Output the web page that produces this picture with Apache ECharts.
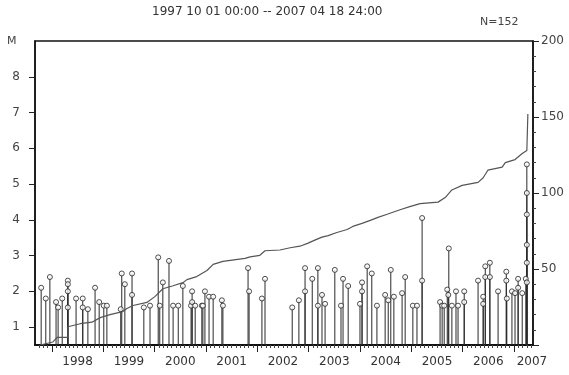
<!DOCTYPE html>
<html>
<head>
<meta charset="utf-8">
<script src="https://cdn.jsdelivr.net/npm/echarts@6/dist/echarts.min.js"></script>
<style>
  html, body { margin: 0; padding: 0; background: #fff; }
  #chart { width: 569px; height: 375px; }
</style>
</head>
<body>
<div id="chart"></div>
<script>
// event times (decimal years) and magnitudes
var eventYears = [
  1997.79, 1997.88, 1997.96, 1998.08, 1998.12, 1998.20, 1998.31, 1998.31, 1998.31, 1998.31,
  1998.47, 1998.60, 1998.60, 1998.70, 1998.84, 1998.92, 1999.01, 1999.07, 1999.34, 1999.36,
  1999.42, 1999.56, 1999.56, 1999.79, 1999.91, 2000.07, 2000.10, 2000.16, 2000.28, 2000.36,
  2000.46, 2000.55, 2000.71, 2000.73, 2000.73, 2000.79, 2000.92, 2000.94, 2000.98, 2001.06,
  2001.14, 2001.31, 2001.33, 2001.82, 2001.84, 2002.09, 2002.15, 2002.68, 2002.81, 2002.93,
  2002.93, 2003.07, 2003.18, 2003.18, 2003.26, 2003.32, 2003.51, 2003.63, 2003.67, 2003.77,
  2004.00, 2004.04, 2004.04, 2004.14, 2004.23, 2004.33, 2004.49, 2004.55, 2004.60, 2004.66,
  2004.82, 2004.88, 2005.03, 2005.11, 2005.21, 2005.21, 2005.56, 2005.60, 2005.64, 2005.70,
  2005.72, 2005.73, 2005.79, 2005.87, 2005.91, 2006.03, 2006.03, 2006.30, 2006.40, 2006.40,
  2006.44, 2006.44, 2006.53, 2006.53, 2006.69, 2006.85, 2006.85, 2006.86, 2006.96, 2007.02,
  2007.08, 2007.08, 2007.16, 2007.23, 2007.25, 2007.25, 2007.25, 2007.25, 2007.25, 2007.25
];
var eventMags = [
  2.1, 1.8, 2.4, 1.7, 1.55, 1.8, 2.3, 2.2, 2.0, 1.55,
  1.8, 1.8, 1.55, 1.5, 2.1, 1.7, 1.6, 1.6, 1.5, 2.5,
  2.2, 2.5, 1.9, 1.55, 1.6, 2.95, 1.6, 2.25, 2.85, 1.6,
  1.6, 2.15, 1.6, 2.0, 1.7, 1.6, 1.6, 1.6, 2.0, 1.85,
  1.85, 1.75, 1.6, 2.65, 2.0, 1.8, 2.35, 1.55, 1.75, 2.65,
  2.0, 2.35, 2.65, 1.6, 1.9, 1.65, 2.6, 1.6, 2.35, 2.15,
  1.65, 2.25, 2.0, 2.7, 2.5, 1.6, 1.9, 1.75, 2.6, 1.85,
  1.95, 2.4, 1.6, 1.6, 4.05, 2.3, 1.7, 1.6, 1.6, 2.05,
  1.9, 3.2, 1.6, 2.0, 1.6, 2.0, 1.7, 2.3, 1.85, 1.65,
  2.7, 2.4, 2.8, 2.4, 2.0, 2.55, 2.3, 1.8, 2.0, 1.95,
  2.35, 2.1, 1.95, 2.35, 5.55, 4.75, 4.15, 3.3, 2.8, 2.25
];

// cumulative count curve (right axis)
var cumYears = [
  1997.77, 1998.02, 1998.10, 1998.31, 1998.31, 1998.55, 1998.78, 1998.94, 1999.13, 1999.38,
  1999.46, 1999.58, 1999.85, 2000.01, 2000.16, 2000.36, 2000.55, 2000.63, 2000.82, 2001.02,
  2001.14, 2001.33, 2001.76, 2001.86, 2002.05, 2002.15, 2002.44, 2002.64, 2002.83, 2002.99,
  2003.12, 2003.26, 2003.38, 2003.55, 2003.75, 2003.86, 2004.04, 2004.20, 2004.35, 2004.53,
  2004.78, 2004.97, 2005.17, 2005.52, 2005.66, 2005.79, 2005.99, 2006.30, 2006.40, 2006.49,
  2006.77, 2006.83, 2007.02, 2007.16, 2007.25, 2007.27
];
var cumCounts = [
  0, 2, 5, 5, 12, 14, 15, 18, 20, 22,
  24, 26, 28, 32, 37, 39, 41, 43, 45, 49,
  53, 55, 57, 58, 59, 62, 62.5, 64, 65, 67,
  69, 71, 72, 74, 76, 78, 80, 82, 84, 86,
  89, 91, 93, 94, 97, 102, 105, 107, 110, 115,
  117, 120, 122, 126, 128, 152
];

var yearTicks = [1998, 1999, 2000, 2001, 2002, 2003, 2004, 2005, 2006, 2007];
var yearLabelPos = [1998.5, 1999.5, 2000.5, 2001.5, 2002.5, 2003.5, 2004.5, 2005.5, 2006.5, 2007.35];
var magTicks = [1, 2, 3, 4, 5, 6, 7, 8];

var xMin = 1997.67, xMax = 2007.37;
var mMin = 0.5, mMax = 9;

// monthly minor ticks
var monthTicks = [];
for (var yy = 1997; yy <= 2007; yy++) {
  for (var mo = 1; mo < 12; mo++) {
    var v = yy + mo / 12;
    if (v > xMin && v < xMax) monthTicks.push(v);
  }
}

var FONT = 'DejaVu Sans';
var chart = echarts.init(document.getElementById('chart'));

var option = {
  backgroundColor: '#fff',
  animation: false,
  grid: {
    left: 35, right: 36, top: 41, bottom: 30,
    show: true, borderColor: '#111', borderWidth: 1.5
  },
  graphic: [
    { type: 'text', left: 152, top: 6,
      style: { text: '1997 10 01 00:00 -- 2007 04 18 24:00', font: '12px ' + FONT, fill: '#333' } },
    { type: 'text', left: 480, top: 17,
      style: { text: 'N=152', font: '11px ' + FONT, fill: '#444' } },
    { type: 'text', left: 7, top: 36,
      style: { text: 'M', font: '11px ' + FONT, fill: '#444' } }
  ],
  xAxis: [
    {
      type: 'value', min: xMin, max: xMax,
      axisLine: { show: true, onZero: false, lineStyle: { color: '#111', width: 2 } },
      axisTick: { show: true, customValues: yearTicks, length: 7, lineStyle: { color: '#222', width: 1 } },
      axisLabel: {
        customValues: yearLabelPos, margin: 11,
        formatter: function (v) { return String(Math.floor(v)); },
        fontFamily: FONT, fontSize: 12, color: '#333'
      },
      splitLine: { show: false }
    },
    {
      type: 'value', min: xMin, max: xMax, position: 'bottom',
      axisLine: { show: false },
      axisTick: { show: true, customValues: monthTicks, length: 3, lineStyle: { color: '#444', width: 1 } },
      axisLabel: { show: false },
      splitLine: { show: false }
    }
  ],
  yAxis: [
    {
      type: 'value', min: mMin, max: mMax, position: 'left',
      axisLine: { show: true, lineStyle: { color: '#111', width: 1.5 } },
      axisTick: { show: true, customValues: magTicks, length: 6, lineStyle: { color: '#222' } },
      axisLabel: { customValues: magTicks, margin: 15, fontFamily: FONT, fontSize: 12, color: '#444' },
      splitLine: { show: false }
    },
    {
      type: 'value', min: 0, max: 200, interval: 50, position: 'right',
      axisLine: { show: true, lineStyle: { color: '#111', width: 1.5 } },
      axisTick: { show: true, length: 6, lineStyle: { color: '#222' } },
      minorTick: { show: true, splitNumber: 5, length: 3, lineStyle: { color: '#444' } },
      axisLabel: {
        margin: 8, fontFamily: FONT, fontSize: 12, color: '#444',
        formatter: function (v) { return v === 0 ? '' : String(v); }
      },
      splitLine: { show: false }, minorSplitLine: { show: false }
    }
  ],
  series: [
    {
      name: 'stems', type: 'custom', xAxisIndex: 0, yAxisIndex: 0,
      data: eventYears.map(function (t, i) { return [t, eventMags[i]]; }),
      renderItem: function (params, api) {
        var p0 = api.coord([api.value(0), mMin]);
        var p1 = api.coord([api.value(0), api.value(1)]);
        return {
          type: 'line',
          shape: { x1: p0[0], y1: p0[1], x2: p1[0], y2: p1[1] },
          style: { stroke: '#2a2a2a', lineWidth: 1 }
        };
      },
      z: 2
    },
    {
      name: 'cum', type: 'line', xAxisIndex: 0, yAxisIndex: 1,
      data: cumYears.map(function (t, i) { return [t, cumCounts[i]]; }),
      showSymbol: false, symbol: 'none',
      lineStyle: { color: '#555', width: 1.2 },
      z: 3
    },
    {
      name: 'heads', type: 'scatter', xAxisIndex: 0, yAxisIndex: 0,
      data: eventYears.map(function (t, i) { return [t, eventMags[i]]; }),
      symbol: 'circle', symbolSize: 5,
      itemStyle: { color: '#fff', borderColor: '#222', borderWidth: 1 },
      z: 4
    }
  ]
};

chart.setOption(option);
</script>
</body>
</html>
